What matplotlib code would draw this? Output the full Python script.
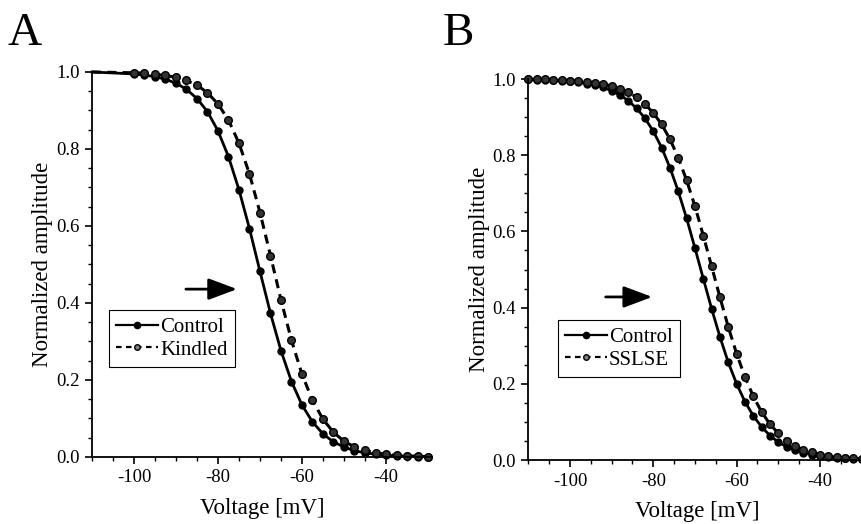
import numpy as np
from matplotlib import pyplot as plt

plt.rcParams['font.family'] = ['Liberation Serif', 'DejaVu Serif']
plt.rcParams['axes.unicode_minus'] = False

#Panel A: voltage steps and normalized amplitudes
v_a = np.arange(-100, -29, 2.5)
control_a = [0.995, 0.992, 0.988, 0.981, 0.971, 0.955, 0.931, 0.897, 0.847,
             0.780, 0.694, 0.593, 0.482, 0.373, 0.276, 0.196, 0.135, 0.091,
             0.060, 0.039, 0.026, 0.016, 0.011, 0.007, 0.004, 0.003, 0.002,
             0.001, 0.001]
kindled_a = [0.998, 0.997, 0.994, 0.991, 0.986, 0.978, 0.966, 0.946, 0.917,
             0.875, 0.815, 0.735, 0.635, 0.523, 0.408, 0.303, 0.215, 0.147,
             0.098, 0.064, 0.041, 0.026, 0.017, 0.011, 0.007, 0.004, 0.003,
             0.002, 0.001]

#Panel B
v_b = np.arange(-110, -29, 2)
control_b = [0.999, 0.998, 0.998, 0.997, 0.995, 0.994, 0.991, 0.988, 0.984,
             0.978, 0.969, 0.958, 0.943, 0.923, 0.897, 0.863, 0.820, 0.767,
             0.705, 0.634, 0.556, 0.476, 0.397, 0.323, 0.256, 0.200, 0.153,
             0.116, 0.087, 0.064, 0.047, 0.035, 0.025, 0.019, 0.014, 0.010,
             0.007, 0.005, 0.004, 0.003, 0.002]
sslse_b = [0.999, 0.999, 0.999, 0.998, 0.997, 0.996, 0.995, 0.993, 0.990,
           0.987, 0.981, 0.974, 0.965, 0.952, 0.934, 0.911, 0.881, 0.842,
           0.793, 0.734, 0.666, 0.589, 0.508, 0.427, 0.349, 0.279, 0.218,
           0.167, 0.126, 0.094, 0.070, 0.051, 0.037, 0.027, 0.020, 0.014,
           0.010, 0.007, 0.005, 0.004, 0.003]

xticks = [-100, -80, -60, -40]
yticks = [0.0, 0.2, 0.4, 0.6, 0.8, 1.0]


def style_axes(ax):
  ax.set_xlim(-110, -29)
  ax.set_ylim(0, 1)
  ax.spines['top'].set_visible(False)
  ax.spines['right'].set_visible(False)
  ax.spines['left'].set_linewidth(1.3)
  ax.spines['bottom'].set_linewidth(1.3)
  ax.set_xticks(xticks)
  ax.set_xticks(np.arange(-110, -29, 5), minor=True)
  ax.set_yticks(yticks)
  ax.set_yticklabels(['%.1f' % t for t in yticks])
  ax.set_yticks(np.arange(0, 1.01, 0.05), minor=True)
  ax.tick_params(which='major', direction='out', length=5, width=1.2,
                 labelsize=13.5, pad=4)
  ax.tick_params(which='minor', direction='out', length=3, width=1.0)
  ax.set_xlabel('Voltage [mV]', fontsize=16.5, labelpad=8)
  ax.set_ylabel('Normalized amplitude', fontsize=16.5, labelpad=2)


def draw_pair(ax, v, y1, y2, name2, start):
  #fitted line reaches back to the axis, markers only on measured points
  v_line = np.concatenate(([-110], v))
  ax.plot(v_line, [1.0] + list(y1), 'k-', lw=2.0, clip_on=False)
  ax.plot(v, y1, 'ko', ms=5, clip_on=False)
  ax.plot(v_line, [1.0] + list(y2), 'k--', lw=2.2, dashes=(3, 2),
          clip_on=False)
  ax.plot(v, y2, 'o', ms=5.5, mfc='0.2', mec='k', mew=1.0, clip_on=False)
  h1, = ax.plot([], [], 'k-', lw=1.6, marker='o', ms=4.5)
  h2, = ax.plot([], [], 'k--', lw=1.6, dashes=(2.5, 2), marker='o', ms=4,
                mfc='0.5', mec='k')
  leg = ax.legend([h1, h2], ['Control', name2], loc='upper left',
                  bbox_to_anchor=start, borderaxespad=0, fontsize=15,
                  handlelength=2.0, handletextpad=0.1, labelspacing=0.15,
                  borderpad=0.35, fancybox=False, framealpha=1)
  leg.get_frame().set_edgecolor('k')
  leg.get_frame().set_linewidth(0.8)


def draw_arrow(ax, x0, x1, y):
  ax.annotate('', xy=(x1, y), xytext=(x0, y),
              arrowprops=dict(arrowstyle='-|>,head_length=0.8,head_width=0.3',
                              color='k', lw=2.0, mutation_scale=22))


fig = plt.figure(figsize=(8.62, 5.24), dpi=100)

ax_a = fig.add_axes([0.1067, 0.1279, 0.3947, 0.7347])
style_axes(ax_a)
draw_pair(ax_a, v_a, control_a, kindled_a, 'Kindled', (0.05, 0.382))
draw_arrow(ax_a, -88.3, -74.8, 0.436)

ax_b = fig.add_axes([0.6129, 0.1221, 0.3915, 0.7271])
style_axes(ax_b)
draw_pair(ax_b, v_b, control_b, sslse_b, 'SSLSE', (0.088, 0.367))
draw_arrow(ax_b, -92.1, -79.6, 0.428)

fig.text(8 / 862, 1 - 45 / 524, 'A', fontsize=34, va='baseline')
fig.text(443 / 862, 1 - 45 / 524, 'B', fontsize=34, va='baseline')

plt.savefig('out.png', dpi=100)
